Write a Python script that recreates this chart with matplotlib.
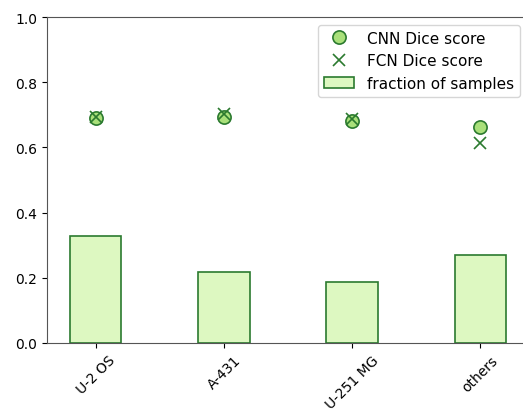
import numpy as np
import matplotlib
matplotlib.use("Agg")
import matplotlib.pyplot as plt

# per cell line results
cell_lines = ["U-2 OS", "A-431", "U-251 MG", "others"]
cnn_dice = [0.689, 0.692, 0.680, 0.664]
fcn_dice = [0.692, 0.702, 0.687, 0.613]
sample_fraction = [0.329, 0.217, 0.188, 0.271]

dark_green = "#2b7a2f"
x = np.arange(len(cell_lines))

fig = plt.figure(figsize=(5.23, 4.14), dpi=100)
ax = fig.add_axes([47 / 523, 1 - 344 / 414, 482 / 523, 326 / 414])

ax.bar(x, sample_fraction, width=0.4, color="#ddf8c1", edgecolor=dark_green,
       linewidth=1.2, label="fraction of samples")
ax.plot(x, cnn_dice, "o", markersize=9.5, markerfacecolor="#a9e07a",
        markeredgecolor=dark_green, markeredgewidth=1.2, label="CNN Dice score")
ax.plot(x, fcn_dice, "x", markersize=9, color=dark_green,
        markeredgewidth=1.2, label="FCN Dice score")

ax.set_xlim(-0.38, 3.38)
ax.set_ylim(0, 1.0)
ax.set_xticks(x)
ax.set_xticklabels(cell_lines, rotation=45, fontsize=10)
ax.tick_params(axis="y", labelsize=10)
for side in ["left", "bottom", "top"]:
    ax.spines[side].set_color("#555555")
ax.spines["right"].set_visible(False)

# markers first, bars last in the legend
handles, labels = ax.get_legend_handles_labels()
ax.legend(handles, labels, loc="upper right", bbox_to_anchor=(0.997, 1.0),
          fontsize=11)

fig.savefig("out.png", dpi=100)
